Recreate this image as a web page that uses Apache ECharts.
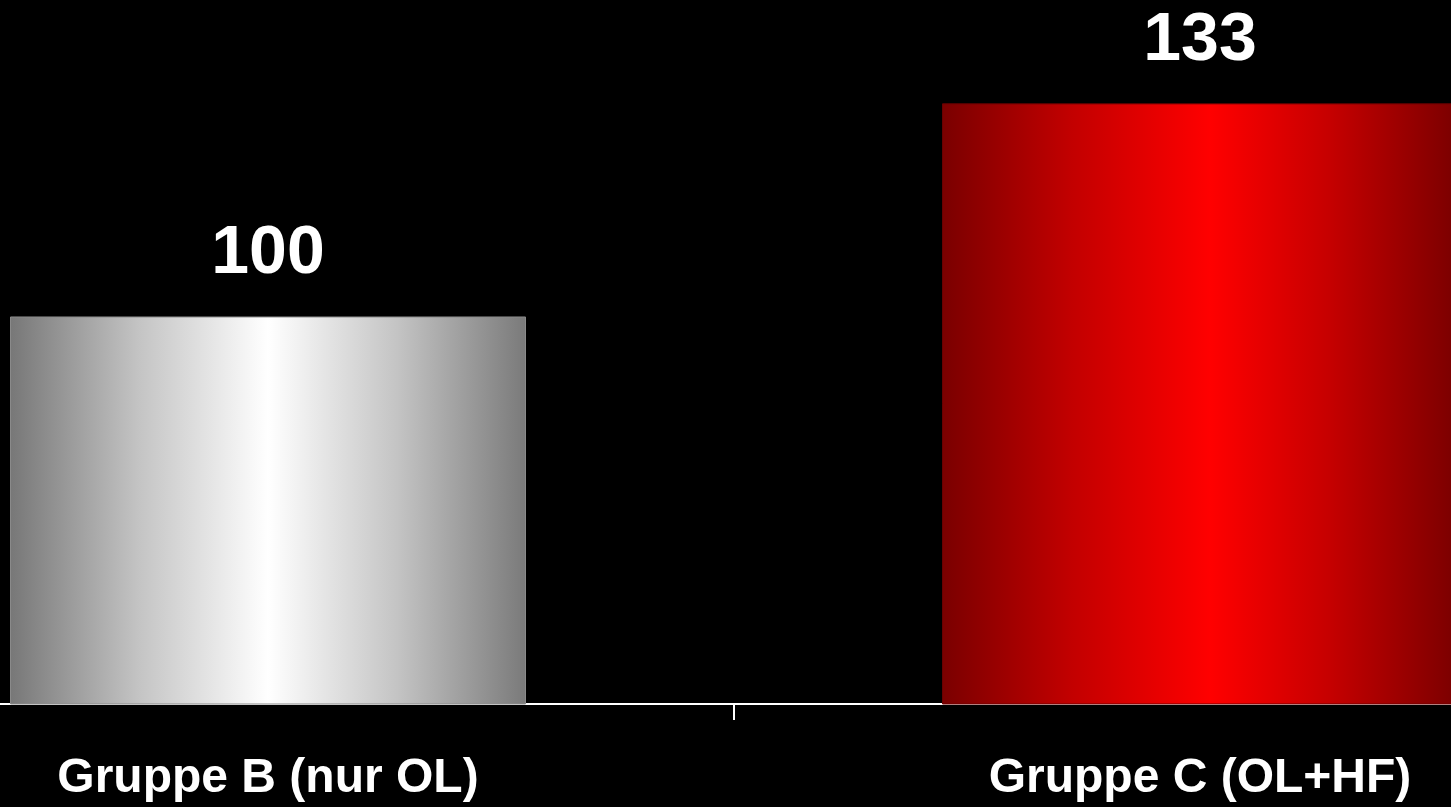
<!DOCTYPE html>
<html>
<head>
<meta charset="utf-8">
<style>
  html, body { margin: 0; padding: 0; background: #000; overflow: hidden; }
  /* 图表比窗口宽，左右各伸出一段，只露出中间刻度 */
  #chart { width: 1864px; height: 807px; margin-left: -198px; }
</style>
<script src="https://cdn.jsdelivr.net/npm/echarts@6/dist/echarts.min.js"></script>
</head>
<body>
<div id="chart"></div>
<script>
// 数据
var categories = ['Gruppe B (nur OL)', 'Gruppe C (OL+HF)'];
var values = [100, 133];

var grayFill = new echarts.graphic.LinearGradient(0, 0, 1, 0, [
    { offset: 0, color: '#777777' },
    { offset: 0.25, color: '#c4c4c4' },
    { offset: 0.5, color: '#ffffff' },
    { offset: 0.75, color: '#c4c4c4' },
    { offset: 1, color: '#7a7a7a' }
]);
var redFill = new echarts.graphic.LinearGradient(0, 0, 1, 0, [
    { offset: 0, color: '#7a0000' },
    { offset: 0.25, color: '#c20000' },
    { offset: 0.52, color: '#ff0000' },
    { offset: 0.75, color: '#c60000' },
    { offset: 1, color: '#7a0000' }
]);
var fills = [grayFill, redFill];
var borders = ['#8a8a8a', '#6a0000'];

var myChart = echarts.init(document.getElementById('chart'));

var option = {
    backgroundColor: '#000000',
    animation: false,
    grid: {
        left: 0,
        right: 0,
        top: 0,
        bottom: 103
    },
    xAxis: {
        type: 'category',
        data: categories,
        axisLine: { lineStyle: { color: '#ffffff', width: 2 } },
        axisTick: { show: true, length: 16, lineStyle: { color: '#ffffff', width: 2 } },
        axisLabel: {
            color: '#ffffff',
            fontFamily: 'Liberation Sans, Arial, sans-serif',
            fontWeight: 'bold',
            fontSize: 48,
            margin: 51
        }
    },
    yAxis: {
        type: 'value',
        min: 40,
        max: 149,
        show: false,
        splitLine: { show: false }
    },
    series: [{
        type: 'bar',
        barWidth: 516,
        data: values.map(function (v, i) {
            return {
                value: v,
                itemStyle: { color: fills[i], borderColor: borders[i], borderWidth: 1 }
            };
        }),
        label: {
            show: true,
            position: 'top',
            distance: 28,
            color: '#ffffff',
            fontFamily: 'Liberation Sans, Arial, sans-serif',
            fontWeight: 'bold',
            fontSize: 68
        }
    }]
};

myChart.setOption(option);
window.onresize = myChart.resize;
</script>
</body>
</html>
